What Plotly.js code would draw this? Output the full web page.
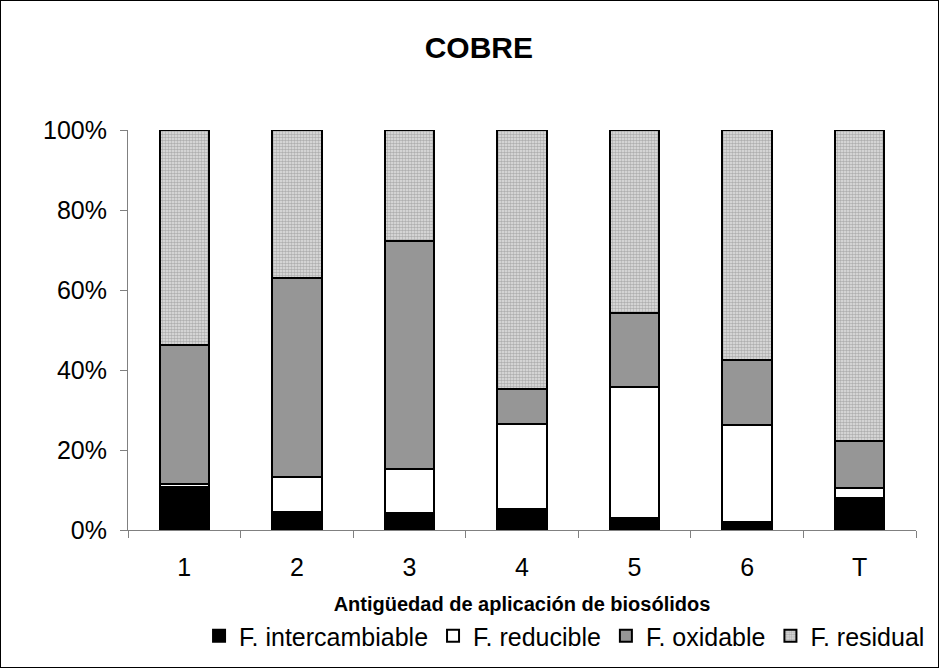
<!DOCTYPE html>
<html><head><meta charset="utf-8">
<script src="https://cdn.plot.ly/plotly-3.0.1.min.js"></script>
<style>html,body{margin:0;padding:0;background:#fff}#c{position:absolute;left:0;top:0;width:937px;height:666px;border:1px solid #000}</style>
</head><body><div id="c"></div>
<script>
const categories = ["1","2","3","4","5","6","T"];
const intercambiable = [10.8, 4.6, 4.2, 5.2, 2.9, 1.9, 7.9];
const reducible = [0.6, 8.6, 11.05, 21.3, 32.85, 24.3, 2.6];
const oxidable = [34.85, 49.8, 57.0, 8.75, 18.5, 16.3, 11.8];
const residual = [53.75, 37.0, 27.75, 64.75, 45.75, 57.5, 77.7];
const seriesNames = ["F. intercambiable","F. reducible","F. oxidable","F. residual"];
const yTickVals = [0,20,40,60,80,100];
const yTickText = ["0%","20%","40%","60%","80%","100%"];

const line = {color:"#000", width:2};
const traces = [
  {type:"bar", x:categories, y:intercambiable, name:seriesNames[0], marker:{color:"#000", line}},
  {type:"bar", x:categories, y:reducible, name:seriesNames[1], marker:{color:"#fff", line}},
  {type:"bar", x:categories, y:oxidable, name:seriesNames[2], marker:{color:"#969696", line}},
  {type:"bar", x:categories, y:residual, name:seriesNames[3], marker:{color:"#c0c0c0", line,
     pattern:{shape:".", fgcolor:"#7a7a7a", bgcolor:"#e4e4e4", size:3, solidity:0.6, fillmode:"overlay"}}}
];
const layout = {
  width:937, height:666,
  margin:{l:127, r:22, t:129, b:137, autoexpand:false},
  barmode:"stack", bargap:0.56,
  paper_bgcolor:"#fff", plot_bgcolor:"#fff",
  font:{family:"Liberation Sans, Arial, sans-serif", color:"#000"},
  title:{text:"<b>COBRE</b>", font:{size:30}, x:0.51, xanchor:"center", xref:"container", y:0.93, yanchor:"middle"},
  xaxis:{type:"category", showline:true, linecolor:"#808080", linewidth:1, ticks:"outside", tickson:"boundaries",
         ticklen:7, tickcolor:"#808080", tickfont:{size:25}, showgrid:false, ticklabelstandoff:15,
         title:{text:"<b>Antigüedad de aplicación de biosólidos</b>", font:{size:20}, standoff:16}},
  yaxis:{range:[0,100], tickvals:yTickVals, ticktext:yTickText,
         showline:true, linecolor:"#808080", linewidth:1, ticks:"outside", ticklen:7, tickcolor:"#808080",
         tickfont:{size:25}, showgrid:false, zeroline:false, ticklabelstandoff:8},
  legend:{orientation:"h", xref:"paper", x:0.554, xanchor:"center", y:-0.265, yanchor:"middle", font:{size:25},
          traceorder:"normal", itemwidth:30, tracegroupgap:0},
  showlegend:true
};
Plotly.newPlot("c", traces, layout, {displayModeBar:false, staticPlot:true});
</script></body></html>
